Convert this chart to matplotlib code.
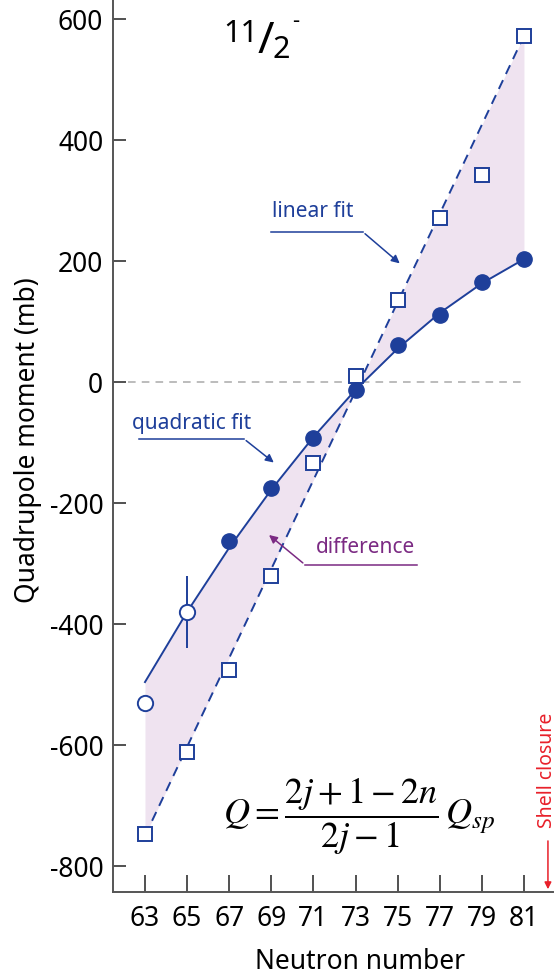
import matplotlib
matplotlib.use("Agg")
import matplotlib.pyplot as plt
import numpy as np

# Datos
neutrones = [63, 65, 67, 69, 71, 73, 75, 77, 79, 81]
# ajuste cuadrático (línea continua) y lineal (discontinua), en mb
ajuste_cuad = [-496, -380, -274, -178, -91, -13, 55, 114, 163, 203]
ajuste_lin = [-750, -603, -456, -309, -162, -15, 132, 278, 425, 572]

# puntos experimentales llenos
n_llenos = [67, 69, 71, 73, 75, 77, 79, 81]
q_llenos = [-263, -175, -93, -13, 61, 111, 165, 203]
# puntos abiertos (círculos)
n_abiertos = [63, 65]
q_abiertos = [-531, -380]
err_abiertos = [0, 60]
# cuadrados (lineal)
n_cuad = [63, 65, 67, 69, 71, 73, 75, 77, 79, 81]
q_cuad = [-747, -612, -476, -321, -134, 10, 136, 271, 342, 572]

y_ticks = [600, 400, 200, 0, -200, -400, -600, -800]
x_ticks = [63, 65, 67, 69, 71, 73, 75, 77, 79, 81]

azul = '#1e3f9a'
lila = '#efe3f0'
morado = '#7b2a83'
rojo = '#e8202a'

plt.rcParams['font.family'] = ['Noto Sans', 'DejaVu Sans']
plt.rcParams['mathtext.fontset'] = 'stix'

fig = plt.figure(figsize=(5.56, 9.78), dpi=100)
ax = fig.add_axes([113 / 556, 1 - 893 / 978, (553 - 113) / 556, 893 / 978])

ax.set_xlim(61.48, 82.38)
ax.set_ylim(-843, 633)

# zona de diferencia
ax.fill_between(neutrones, ajuste_cuad, ajuste_lin, color=lila, lw=0, zorder=1)
ax.plot([62.2, 81], [0, 0], ls=(0, (5, 4)), color='#aaaaaa', lw=1.1, zorder=2)

ax.plot(neutrones, ajuste_cuad, color=azul, lw=1.4, zorder=3)
ax.plot(neutrones, ajuste_lin, color=azul, lw=1.4, ls=(0, (5, 3.5)), zorder=3)

ax.plot(n_cuad, q_cuad, 's', ms=10.5, mfc='white', mec=azul, mew=1.4, zorder=4)
ax.errorbar(n_abiertos, q_abiertos, yerr=err_abiertos, fmt='o', ms=11,
            mfc='white', mec=azul, mew=1.4, ecolor=azul, elinewidth=1.4,
            capsize=0, zorder=4)
ax.plot(n_llenos, q_llenos, 'o', ms=11, color=azul, zorder=5)

# anotaciones
fs_ann = 15
ax.text(70.98, 283, 'linear fit', color=azul, fontsize=fs_ann, ha='center', va='center')
ax.plot([68.98, 73.35], [248, 248], color=azul, lw=1.1)
ax.annotate('', xy=(75.2, 193), xytext=(73.35, 248),
            arrowprops=dict(arrowstyle='-|>', color=azul, lw=1.1, mutation_scale=12))

ax.text(65.23, -67, 'quadratic fit', color=azul, fontsize=fs_ann, ha='center', va='center')
ax.plot([62.72, 67.7], [-94, -94], color=azul, lw=1.1)
ax.annotate('', xy=(69.22, -136), xytext=(67.7, -94),
            arrowprops=dict(arrowstyle='-|>', color=azul, lw=1.1, mutation_scale=12))

ax.text(73.49, -272, 'difference', color=morado, fontsize=fs_ann, ha='center', va='center')
ax.plot([70.6, 75.92], [-302, -302], color=morado, lw=1.1)
ax.annotate('', xy=(68.79, -250), xytext=(70.6, -302),
            arrowprops=dict(arrowstyle='-|>', color=morado, lw=1.1, mutation_scale=12))

# fórmula
ax.text(73.2, -716, r'$Q=\dfrac{2j+1-2n}{2j-1}\,Q_{sp}$', fontsize=26,
        ha='center', va='center')

# cierre de capa
ax.text(82.08, -640, 'Shell closure', color=rojo, fontsize=14, rotation=90,
        ha='center', va='center', clip_on=False)
ax.annotate('', xy=(82.14, -843), xytext=(82.14, -754),
            arrowprops=dict(arrowstyle='-|>', color=rojo, lw=1.1, mutation_scale=10),
            annotation_clip=False)

# título 11/2-
fig.text(258 / 556, 1 - 34 / 978, '11', fontsize=22, ha='right', va='center')
fig.text(258 / 556, 1 - 42 / 978, '/', fontsize=32, ha='left', va='center')
fig.text(273 / 556, 1 - 50 / 978, '2', fontsize=22, ha='left', va='center')
fig.text(292 / 556, 1 - 22 / 978, '-', fontsize=16, ha='left', va='center')

# ejes
ax.set_xticks(x_ticks)
ax.set_yticks(y_ticks)
ax.set_yticklabels([str(v) for v in y_ticks])
ax.tick_params(direction='in', width=1.2, labelsize=19, color='#333333')
ax.tick_params(axis='y', length=9, pad=7)
ax.tick_params(axis='x', length=12, pad=9)
for s in ['top', 'right']:
    ax.spines[s].set_visible(False)
for s in ['left', 'bottom']:
    ax.spines[s].set_color('#555555')
    ax.spines[s].set_linewidth(1.4)

ax.set_xlabel('Neutron number', fontsize=19, va='center')
ax.set_ylabel('Quadrupole moment (mb)', fontsize=19)
ax.xaxis.set_label_coords(0.561, -0.0776)
ax.yaxis.set_label_coords(-0.161, 0.507)

fig.savefig('out.png', dpi=100)
